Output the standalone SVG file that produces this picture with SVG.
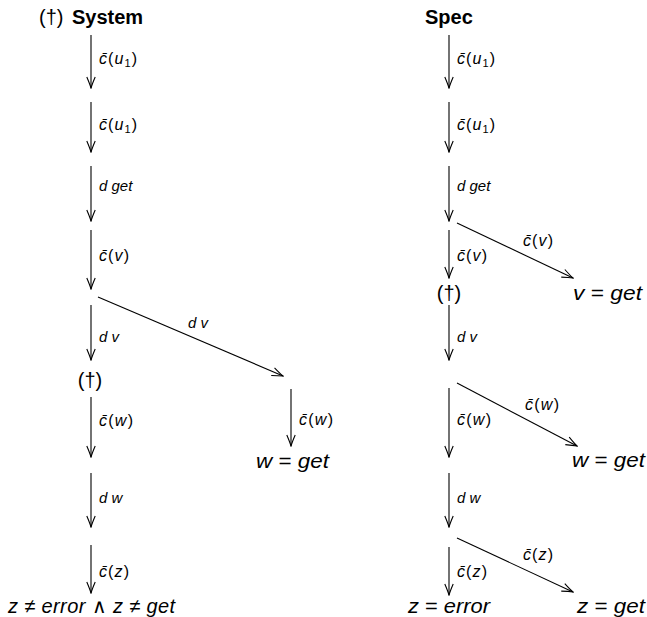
<svg xmlns="http://www.w3.org/2000/svg" width="647" height="617" viewBox="0 0 647 617">
<style>
text{font-family:"Liberation Sans",Arial,sans-serif;fill:#000}
.hd{font-size:20px;font-weight:bold}
.st{font-size:20px;font-style:italic}
.up{font-style:normal}
.lb{font-size:15px;font-style:italic}
.cl{font-size:16px;font-style:italic}
.sub{font-size:11px;font-style:normal}
.e{stroke:#000;stroke-width:1.1;fill:none;marker-end:url(#ah)}
</style>
<defs>
<marker id="ah" viewBox="-13 -6 14 12" refX="0" refY="0" markerWidth="14" markerHeight="12" orient="auto" markerUnits="userSpaceOnUse">
<path d="M-11,-4.2 Q-4,-1.2 0,0 Q-4,1.2 -11,4.2" fill="none" stroke="#000" stroke-width="1.1"/>
</marker>
</defs>
<rect width="647" height="617" fill="#fff"/>
<g id="connectors">
<line class="e" x1="91" y1="35" x2="91" y2="88"/>
<line class="e" x1="91" y1="102" x2="91" y2="152"/>
<line class="e" x1="91" y1="166" x2="91" y2="221"/>
<line class="e" x1="91" y1="230" x2="91" y2="289"/>
<line class="e" x1="91" y1="305" x2="91" y2="360"/>
<line class="e" x1="98" y1="297" x2="283" y2="376"/>
<line class="e" x1="91" y1="397" x2="91" y2="457"/>
<line class="e" x1="91" y1="473" x2="91" y2="527"/>
<line class="e" x1="91" y1="545" x2="91" y2="593"/>
<line class="e" x1="291" y1="389" x2="291" y2="446"/>
<line class="e" x1="449" y1="35" x2="449" y2="88"/>
<line class="e" x1="449" y1="102" x2="449" y2="152"/>
<line class="e" x1="449" y1="166" x2="449" y2="221"/>
<line class="e" x1="449" y1="230" x2="449" y2="278"/>
<line class="e" x1="457" y1="223" x2="573" y2="278"/>
<line class="e" x1="449" y1="305" x2="449" y2="360"/>
<line class="e" x1="457" y1="383" x2="577" y2="446"/>
<line class="e" x1="449" y1="388" x2="449" y2="457"/>
<line class="e" x1="449" y1="473" x2="449" y2="527"/>
<line class="e" x1="457" y1="538" x2="573" y2="592"/>
<line class="e" x1="449" y1="547" x2="449" y2="595"/>
</g>
<g id="edge-labels">
<text class="cl" x="99" y="64" textLength="38" lengthAdjust="spacing">c&#x304;<tspan class="up">(</tspan>u<tspan class="sub" dy="3">1</tspan><tspan class="up" dy="-3">)</tspan></text>
<text class="cl" x="99" y="130" textLength="38" lengthAdjust="spacing">c&#x304;<tspan class="up">(</tspan>u<tspan class="sub" dy="3">1</tspan><tspan class="up" dy="-3">)</tspan></text>
<text class="lb" x="99" y="191">d get</text>
<text class="cl" x="99" y="261" textLength="30" lengthAdjust="spacing">c&#x304;<tspan class="up">(</tspan>v<tspan class="up">)</tspan></text>
<text class="lb" x="99" y="342">d v</text>
<text class="lb" x="188" y="328">d v</text>
<text class="cl" x="99" y="426" textLength="34" lengthAdjust="spacing">c&#x304;<tspan class="up">(</tspan>w<tspan class="up">)</tspan></text>
<text class="lb" x="99" y="503">d w</text>
<text class="cl" x="99" y="577" textLength="30" lengthAdjust="spacing">c&#x304;<tspan class="up">(</tspan>z<tspan class="up">)</tspan></text>
<text class="cl" x="299" y="425" textLength="34" lengthAdjust="spacing">c&#x304;<tspan class="up">(</tspan>w<tspan class="up">)</tspan></text>
<text class="cl" x="457" y="64" textLength="38" lengthAdjust="spacing">c&#x304;<tspan class="up">(</tspan>u<tspan class="sub" dy="3">1</tspan><tspan class="up" dy="-3">)</tspan></text>
<text class="cl" x="457" y="130" textLength="38" lengthAdjust="spacing">c&#x304;<tspan class="up">(</tspan>u<tspan class="sub" dy="3">1</tspan><tspan class="up" dy="-3">)</tspan></text>
<text class="lb" x="457" y="191">d get</text>
<text class="cl" x="457" y="261" textLength="30" lengthAdjust="spacing">c&#x304;<tspan class="up">(</tspan>v<tspan class="up">)</tspan></text>
<text class="cl" x="523" y="246" textLength="30" lengthAdjust="spacing">c&#x304;<tspan class="up">(</tspan>v<tspan class="up">)</tspan></text>
<text class="lb" x="457" y="342">d v</text>
<text class="cl" x="525" y="410" textLength="34" lengthAdjust="spacing">c&#x304;<tspan class="up">(</tspan>w<tspan class="up">)</tspan></text>
<text class="cl" x="457" y="425" textLength="34" lengthAdjust="spacing">c&#x304;<tspan class="up">(</tspan>w<tspan class="up">)</tspan></text>
<text class="lb" x="457" y="503">d w</text>
<text class="cl" x="523" y="560" textLength="30" lengthAdjust="spacing">c&#x304;<tspan class="up">(</tspan>z<tspan class="up">)</tspan></text>
<text class="cl" x="457" y="577" textLength="30" lengthAdjust="spacing">c&#x304;<tspan class="up">(</tspan>z<tspan class="up">)</tspan></text>
</g>
<g id="system-title"><text class="hd" x="39" y="24"><tspan font-weight="normal">(†)</tspan><tspan x="72">System</tspan></text></g>
<g id="spec-title"><text class="hd" x="425" y="24">Spec</text></g>
<g id="dagger-left"><text class="st" x="90" y="387" text-anchor="middle"><tspan class="up">(†)</tspan></text></g>
<g id="w-get-left"><text class="st" x="256" y="468" textLength="73" lengthAdjust="spacingAndGlyphs">w <tspan class="up">=</tspan> get</text></g>
<g id="final-left"><text class="st" x="8" y="613" textLength="167" lengthAdjust="spacing">z <tspan class="up">≠</tspan> error <tspan class="up">∧</tspan> z <tspan class="up">≠</tspan> get</text></g>
<g id="dagger-right"><text class="st" x="449" y="300" text-anchor="middle"><tspan class="up">(†)</tspan></text></g>
<g id="v-get"><text class="st" x="573" y="300" textLength="69" lengthAdjust="spacingAndGlyphs">v <tspan class="up">=</tspan> get</text></g>
<g id="w-get-right"><text class="st" x="572" y="467" textLength="73" lengthAdjust="spacingAndGlyphs">w <tspan class="up">=</tspan> get</text></g>
<g id="z-error"><text class="st" x="408" y="613" textLength="82" lengthAdjust="spacingAndGlyphs">z <tspan class="up">=</tspan> error</text></g>
<g id="z-get"><text class="st" x="577" y="613" textLength="68" lengthAdjust="spacingAndGlyphs">z <tspan class="up">=</tspan> get</text></g>
</svg>
